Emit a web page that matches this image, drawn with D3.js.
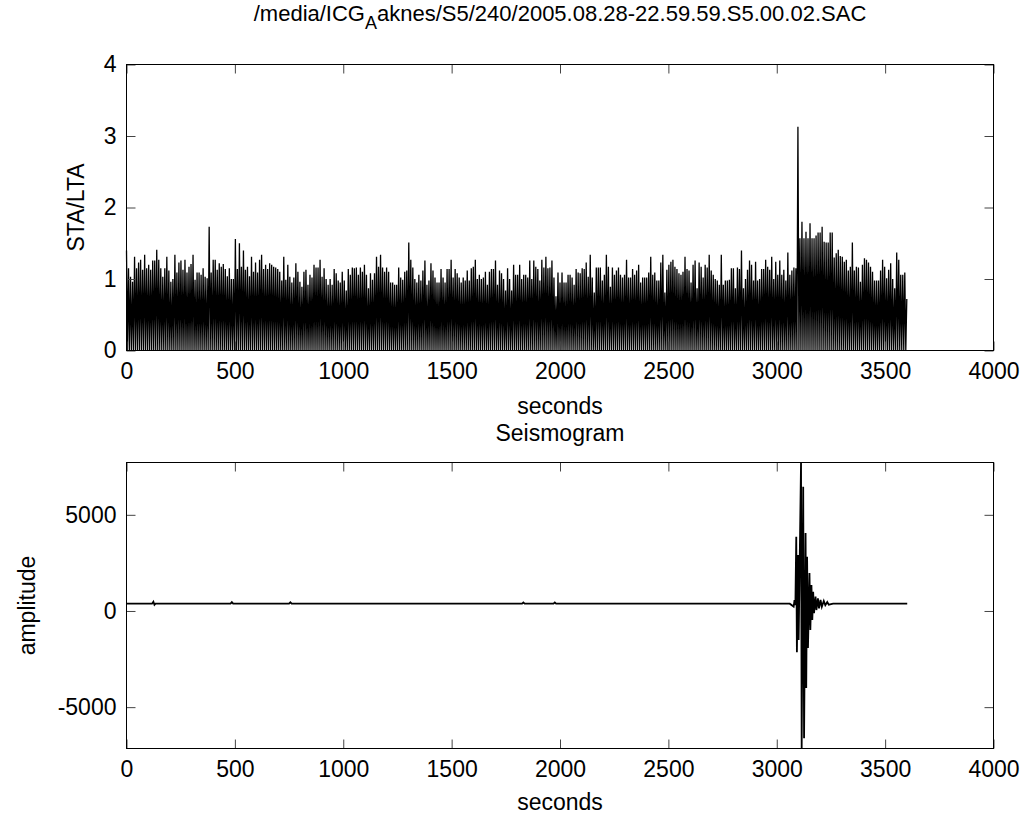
<!DOCTYPE html>
<html>
<head>
<meta charset="utf-8">
<script src="https://cdn.jsdelivr.net/npm/d3@7"></script>
<style>
  body { margin: 0; background: #fff; }
  svg text { font-family: "Liberation Sans", Arial, sans-serif; fill: #000; }
</style>
</head>
<body>
<script>
// ---- data ----
const titleParts = ['/media/ICG', 'A', 'aknes/S5/240/2005.08.28-22.59.59.S5.00.02.SAC'];
const xTicks = [0, 500, 1000, 1500, 2000, 2500, 3000, 3500, 4000];
const staTicks = [0, 1, 2, 3, 4];
const ampTicks = [-5000, 0, 5000];

// STA/LTA: one peak per window, windows evenly spread over the record
const staDuration = 3600;
const staTrough = 0;
const staPeaks = [
  1.40, 1.15, 1.03, 0.96, 1.31, 1.15, 1.23, 1.27, 1.13, 1.34,
  1.15, 1.20, 1.13, 1.26, 1.26, 1.41, 1.27, 1.15, 1.03, 1.15,
  1.31, 1.12, 0.96, 1.00, 1.34, 1.09, 1.23, 1.26, 1.13, 1.27,
  1.09, 1.17, 1.21, 1.34, 0.99, 1.09, 1.09, 1.06, 1.15, 1.03,
  1.01, 1.73, 1.09, 1.27, 1.27, 1.13, 1.22, 1.17, 1.21, 1.14,
  1.04, 1.15, 1.00, 1.00, 1.56, 1.14, 1.50, 1.17, 1.40, 1.13,
  1.17, 1.04, 1.31, 1.10, 1.23, 1.09, 1.27, 1.34, 1.14, 1.20,
  1.14, 1.22, 1.20, 1.17, 1.16, 1.14, 1.10, 0.98, 1.31, 0.99,
  1.20, 1.03, 0.95, 1.02, 1.22, 1.10, 0.96, 0.89, 1.10, 1.13,
  0.92, 1.06, 1.02, 1.20, 1.16, 1.16, 1.27,
  1.03, 1.15, 1.00, 0.92, 1.00, 0.92, 1.14, 1.08, 0.98, 0.95,
  1.10, 0.98, 0.84, 1.14, 1.06, 1.16, 1.15, 1.16, 1.06, 1.16,
  1.10, 1.20, 1.06, 0.87, 1.08, 0.99, 1.08, 1.31, 1.17, 1.34,
  1.16, 1.10, 1.16, 1.10, 0.95, 0.95, 0.92, 0.92, 1.16, 1.02,
  0.99, 1.10, 1.12, 1.51, 1.27, 1.16, 1.00, 0.95, 1.06, 0.98,
  1.12, 1.26, 0.92, 0.98, 1.22, 1.12, 1.02, 0.95, 0.95, 1.14,
  1.02, 0.95, 1.14, 1.14, 1.27, 1.02, 1.14, 1.08, 1.02, 0.95,
  1.02, 0.98, 1.12, 0.98, 1.15, 1.17, 1.27, 1.00, 1.06, 1.00,
  1.02, 1.10, 0.92, 1.10, 1.14, 1.14, 1.26, 0.92, 1.12, 1.08,
  1.00, 0.84, 1.15, 1.00, 0.84, 1.20, 1.06, 1.06, 1.20, 1.00,
  1.06, 1.06, 1.02, 1.26, 1.00, 1.26, 1.17, 1.14, 0.98, 1.27,
  1.16, 1.31, 1.15, 1.16, 1.26, 1.02, 0.76, 1.09, 0.95, 1.09,
  0.95, 0.95, 1.06, 1.06, 1.02, 0.92, 1.14, 1.09, 1.08, 1.15,
  1.14, 1.23, 1.03, 1.34, 1.02, 0.81, 1.16, 1.16, 1.16, 0.98,
  1.06, 1.34, 1.17, 0.89, 1.16, 1.06, 1.12, 1.16, 1.06, 1.02,
  1.06, 1.27, 1.02, 1.02, 1.14, 1.06, 1.12, 1.20, 0.95, 1.02,
  1.02, 1.02, 1.09, 1.31, 1.06, 1.09, 0.98, 0.98, 1.23, 1.34,
  0.81, 1.13, 1.20, 1.24, 1.27, 1.17, 1.14, 1.08, 1.06,
  1.10, 1.31, 1.14, 1.12, 0.95, 1.20, 1.26, 0.87, 1.23, 1.17,
  1.02, 1.20, 1.16, 1.34, 1.12, 1.06, 1.00, 0.98, 0.92, 1.34,
  0.92, 0.98, 0.98, 0.99, 1.15, 1.15, 0.87, 1.16, 1.14, 1.40,
  0.87, 1.00, 1.13, 1.26, 1.20, 0.98, 1.24, 0.98, 1.00, 1.14,
  1.14, 1.27, 1.17, 1.13, 1.31, 1.00, 1.24, 1.06, 1.26, 1.06,
  1.13, 0.98, 1.37, 1.06, 1.12, 1.16, 1.15, 3.13, 1.57, 1.80,
  1.57, 1.66, 1.57, 1.78, 1.57, 1.57, 1.61, 1.65, 1.65, 1.73,
  1.52, 1.51, 1.51, 1.65, 1.65, 1.30, 1.36, 1.41, 1.32, 1.31,
  1.24, 1.27, 1.12, 1.17, 1.51, 1.12, 1.17, 1.16, 0.96, 1.20,
  1.29, 1.27, 1.23, 1.17, 1.10, 0.98, 0.98, 0.98, 1.12, 1.27,
  1.17, 1.01, 1.13, 1.22, 1.00, 0.87, 1.37, 1.27, 1.06, 1.06,
  1.09, 0.72
];

// Seismogram: flat trace with a burst near 3100 s
const seisTime = [0, 118, 124, 129, 134, 480, 486, 492, 750, 756, 762,
  1825, 1831, 1837, 1970, 1976, 1982, 3060, 3078, 3082, 3086,
  3090, 3093, 3098, 3101, 3112, 3115, 3122, 3126, 3133, 3136,
  3140, 3144, 3151, 3155, 3160, 3164, 3168, 3172, 3179, 3183,
  3190, 3195, 3202, 3208, 3217, 3224, 3233, 3240, 3260, 3602];
const seisAmp = [380, 380, 480, 320, 380, 380, 460, 380, 380, 450, 380,
  380, 440, 380, 380, 440, 380, 380, 230, 560, 300,
  3860, -2150, 2910, -1510, 7720, -7150, 6460, -6620, 4050, -4010,
  2820, -1930, 1970, -990, 1350, -470, 1000, -110, 750, 50,
  660, 140, 570, 220, 520, 300, 470, 330, 380, 380];

// ---- layout ----
const W = 1026, H = 816;
const left = 126.5, right = 993.5;
const topBox = { y0: 64.5, y1: 350.5 };
const botBox = { y0: 462.5, y1: 748.5 };
const fontSize = 23;
const tickLen = 9;

const svg = d3.select('body').append('svg')
  .attr('width', W)
  .attr('height', H)
  .attr('xmlns', 'http://www.w3.org/2000/svg');

svg.append('rect').attr('width', W).attr('height', H).attr('fill', 'white');

const x = d3.scaleLinear().domain([0, 4000]).range([left, right]);
const ySta = d3.scaleLinear().domain([0, 4]).range([topBox.y1, topBox.y0]);
const yAmp = d3.scaleLinear().domain(d3.extent(seisAmp)).range([botBox.y1, botBox.y0]);

const plain = d => String(d);

function drawFrame(box, y, yTickVals) {
  const g = svg.append('g');

  // bottom axis with labels, ticks pointing inward
  g.append('g')
    .attr('transform', `translate(0,${box.y1})`)
    .call(d3.axisBottom(x).tickValues(xTicks).tickSize(-tickLen).tickPadding(12).tickFormat(plain))
    .call(a => a.select('.domain').remove());
  // top axis, ticks only
  g.append('g')
    .attr('transform', `translate(0,${box.y0})`)
    .call(d3.axisTop(x).tickValues(xTicks).tickSize(-tickLen).tickFormat(''))
    .call(a => a.select('.domain').remove());
  // left axis with labels
  g.append('g')
    .attr('transform', `translate(${left},0)`)
    .call(d3.axisLeft(y).tickValues(yTickVals).tickSize(-tickLen).tickPadding(10).tickFormat(plain))
    .call(a => a.select('.domain').remove());
  // right axis, ticks only
  g.append('g')
    .attr('transform', `translate(${right},0)`)
    .call(d3.axisRight(y).tickValues(yTickVals).tickSize(-tickLen).tickFormat(''))
    .call(a => a.select('.domain').remove());

  g.selectAll('text')
    .style('font-size', fontSize + 'px')
    .style('font-family', '"Liberation Sans", Arial, sans-serif');
  g.selectAll('.tick line').attr('stroke', '#444');

  // box
  g.append('rect')
    .attr('x', left).attr('y', box.y0)
    .attr('width', right - left).attr('height', box.y1 - box.y0)
    .attr('fill', 'none').attr('stroke', '#000').attr('stroke-width', 1);
  return g;
}

// ---- top: STA/LTA ----
const dt = staDuration / (staPeaks.length - 1);
const staPts = [];
staPeaks.forEach((v, i) => {
  staPts.push([i * dt, v]);
  if (i < staPeaks.length - 1) staPts.push([i * dt + dt / 2, staTrough]);
});

svg.append('path')
  .datum(staPts)
  .attr('fill', 'none')
  .attr('stroke', '#000')
  .attr('stroke-width', 1.3)
  .attr('d', d3.line().x(d => x(d[0])).y(d => ySta(d[1])));

drawFrame(topBox, ySta, staTicks);

// ---- bottom: seismogram ----
svg.append('path')
  .datum(seisTime.map((t, i) => [t, seisAmp[i]]))
  .attr('fill', 'none')
  .attr('stroke', '#000')
  .attr('stroke-width', 1.8)
  .attr('d', d3.line().x(d => x(d[0])).y(d => yAmp(d[1])));

drawFrame(botBox, yAmp, ampTicks);

// ---- titles and labels ----
const cx = (left + right) / 2;
const title = svg.append('text')
  .attr('x', cx).attr('y', 21)
  .attr('text-anchor', 'middle')
  .style('font-size', '22px');
title.append('tspan').text(titleParts[0]);
title.append('tspan').attr('dy', 8).style('font-size', '18px').text(titleParts[1]);
title.append('tspan').attr('dy', -8).text(titleParts[2]);

svg.append('text')
  .attr('x', cx).attr('y', 414)
  .attr('text-anchor', 'middle')
  .style('font-size', fontSize + 'px')
  .text('seconds');

svg.append('text')
  .attr('x', cx).attr('y', 441)
  .attr('text-anchor', 'middle')
  .style('font-size', fontSize + 'px')
  .text('Seismogram');

svg.append('text')
  .attr('x', cx).attr('y', 810)
  .attr('text-anchor', 'middle')
  .style('font-size', fontSize + 'px')
  .text('seconds');

svg.append('text')
  .attr('transform', `translate(84,${(topBox.y0 + topBox.y1) / 2}) rotate(-90)`)
  .attr('text-anchor', 'middle')
  .style('font-size', fontSize + 'px')
  .text('STA/LTA');

svg.append('text')
  .attr('transform', `translate(35,${(botBox.y0 + botBox.y1) / 2}) rotate(-90)`)
  .attr('text-anchor', 'middle')
  .style('font-size', fontSize + 'px')
  .text('amplitude');
</script>
</body>
</html>
